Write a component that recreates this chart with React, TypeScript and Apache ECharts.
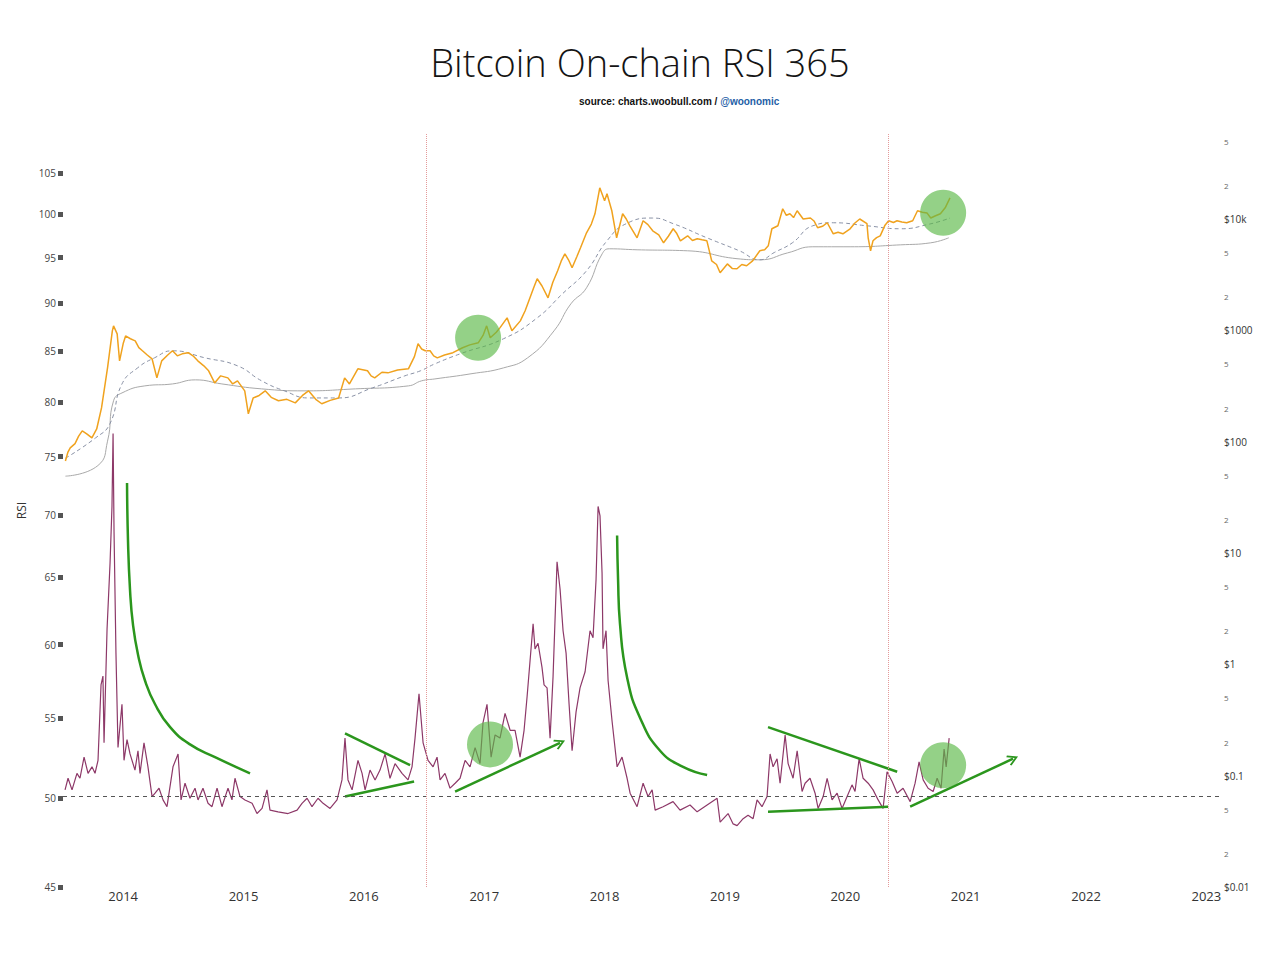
import { useEffect, useRef } from "react";
import * as echarts from "echarts";

// axis ticks
const yearTicks = [2014, 2015, 2016, 2017, 2018, 2019, 2020, 2021, 2022, 2023];
const rsiTicks = [45, 50, 55, 60, 65, 70, 75, 80, 85, 90, 95, 100, 105];
const priceDecades = [0.01, 0.1, 1, 10, 100, 1000, 10000];
const priceDecadeLabels = ["$0.01", "$0.1", "$1", "$10", "$100", "$1000", "$10k"];
const halvings = [2016.52, 2020.36];

// [decimal year, RSI]
const rsiPoints: [number, number][] = [
  [2013.517, 50.5], [2013.542, 51.2], [2013.575, 50.5], [2013.616, 51.5], [2013.641, 51.2],
  [2013.675, 52.5], [2013.708, 51.5], [2013.741, 51.9], [2013.766, 51.5], [2013.791, 52.3],
  [2013.816, 57.2], [2013.832, 57.8], [2013.841, 53.4], [2013.866, 61.1], [2013.891, 66.1],
  [2013.907, 70.7], [2013.916, 77.1], [2013.924, 68.6], [2013.94, 59.4], [2013.957, 53.1],
  [2013.99, 55.9], [2014.007, 52.3], [2014.032, 53.6], [2014.057, 52.7], [2014.098, 51.7],
  [2014.123, 52.9], [2014.14, 51.5], [2014.173, 53.4], [2014.206, 51.9], [2014.24, 50.1],
  [2014.265, 50.3], [2014.298, 50.6], [2014.331, 49.9], [2014.364, 49.5], [2014.414, 51.9],
  [2014.456, 52.7], [2014.481, 49.9], [2014.514, 50.9], [2014.555, 50.0], [2014.597, 50.6],
  [2014.622, 49.9], [2014.663, 50.6], [2014.705, 49.7], [2014.738, 49.5], [2014.78, 50.6],
  [2014.821, 49.5], [2014.871, 50.6], [2014.904, 49.9], [2014.929, 51.2], [2014.971, 50.1],
  [2015.012, 49.9], [2015.071, 49.7], [2015.112, 49.1], [2015.154, 49.4], [2015.195, 50.5],
  [2015.22, 49.3], [2015.287, 49.2], [2015.37, 49.1], [2015.445, 49.3], [2015.486, 49.7],
  [2015.528, 50.0], [2015.569, 49.5], [2015.619, 50.0], [2015.661, 49.7], [2015.719, 49.4],
  [2015.777, 49.9], [2015.818, 51.1], [2015.843, 53.7], [2015.868, 51.1], [2015.902, 50.5],
  [2015.951, 52.3], [2015.985, 51.5], [2016.01, 50.5], [2016.051, 51.7], [2016.093, 51.1],
  [2016.134, 51.7], [2016.176, 52.7], [2016.217, 51.2], [2016.259, 52.1], [2016.317, 51.5],
  [2016.367, 51.1], [2016.4, 51.9], [2016.425, 53.7], [2016.458, 56.6], [2016.492, 53.4],
  [2016.533, 52.3], [2016.575, 51.9], [2016.608, 52.5], [2016.633, 51.1], [2016.674, 51.5],
  [2016.716, 50.6], [2016.758, 50.9], [2016.799, 51.2], [2016.841, 52.3], [2016.882, 51.9],
  [2016.924, 53.1], [2016.965, 52.1], [2016.99, 54.7], [2017.023, 55.9], [2017.057, 52.5],
  [2017.09, 53.9], [2017.131, 53.7], [2017.173, 55.3], [2017.215, 54.2], [2017.256, 54.2],
  [2017.298, 52.5], [2017.331, 54.2], [2017.356, 56.4], [2017.381, 58.9], [2017.406, 61.5],
  [2017.422, 59.7], [2017.447, 60.1], [2017.48, 58.4], [2017.497, 57.2], [2017.522, 57.0],
  [2017.547, 53.7], [2017.572, 57.8], [2017.605, 66.2], [2017.63, 64.1], [2017.655, 61.0],
  [2017.68, 59.4], [2017.705, 55.9], [2017.73, 52.9], [2017.763, 55.4], [2017.796, 57.0],
  [2017.838, 58.1], [2017.879, 61.0], [2017.904, 60.5], [2017.929, 64.8], [2017.946, 70.7],
  [2017.962, 69.9], [2017.979, 65.3], [2017.987, 59.7], [2018.012, 61.0], [2018.029, 57.5],
  [2018.062, 54.8], [2018.104, 51.9], [2018.145, 52.5], [2018.187, 51.2], [2018.212, 50.3],
  [2018.27, 49.5], [2018.32, 50.9], [2018.361, 50.1], [2018.395, 50.5], [2018.42, 49.3],
  [2018.486, 49.5], [2018.569, 49.8], [2018.627, 49.3], [2018.71, 49.6], [2018.769, 49.2],
  [2018.852, 49.6], [2018.935, 50.0], [2018.96, 48.6], [2019.026, 49.1], [2019.068, 48.5],
  [2019.101, 48.4], [2019.151, 48.8], [2019.192, 49.0], [2019.234, 48.8], [2019.267, 49.9],
  [2019.308, 49.5], [2019.35, 50.1], [2019.375, 52.7], [2019.4, 51.9], [2019.433, 52.4],
  [2019.458, 50.9], [2019.5, 53.9], [2019.525, 52.1], [2019.566, 51.2], [2019.6, 52.9],
  [2019.641, 50.4], [2019.666, 50.9], [2019.707, 51.2], [2019.749, 50.3], [2019.774, 49.4],
  [2019.816, 50.1], [2019.849, 51.2], [2019.89, 49.9], [2019.932, 50.3], [2019.973, 49.4],
  [2020.015, 50.1], [2020.056, 50.8], [2020.081, 50.4], [2020.115, 52.4], [2020.148, 51.2],
  [2020.19, 50.9], [2020.231, 50.5], [2020.273, 49.9], [2020.314, 49.4], [2020.347, 51.6],
  [2020.389, 51.0], [2020.431, 50.3], [2020.48, 50.6], [2020.539, 49.8], [2020.58, 50.9],
  [2020.613, 52.2], [2020.647, 51.1], [2020.688, 50.6], [2020.73, 50.4], [2020.763, 51.2],
  [2020.796, 50.6], [2020.821, 53.0], [2020.838, 51.9], [2020.863, 53.7],
];

// [decimal year, USD]
const pricePoints: [number, number][] = [
  [2013.52, 67], [2013.54, 80], [2013.56, 88], [2013.6, 96], [2013.63, 112], [2013.66, 125],
  [2013.7, 117], [2013.74, 108], [2013.78, 130], [2013.82, 201], [2013.87, 460],
  [2013.91, 990], [2013.92, 1097], [2013.95, 930], [2013.97, 532], [2014.0, 760],
  [2014.02, 890], [2014.06, 840], [2014.1, 805], [2014.13, 700], [2014.16, 655],
  [2014.2, 600], [2014.24, 555], [2014.28, 374], [2014.32, 532], [2014.37, 600],
  [2014.41, 655], [2014.45, 590], [2014.49, 615], [2014.54, 630], [2014.58, 590],
  [2014.62, 532], [2014.67, 480], [2014.71, 433], [2014.76, 337], [2014.81, 390],
  [2014.87, 374], [2014.91, 330], [2014.95, 352], [2015.01, 286], [2015.04, 178],
  [2015.08, 247], [2015.13, 260], [2015.18, 286], [2015.23, 250], [2015.29, 233],
  [2015.36, 240], [2015.43, 223], [2015.49, 260], [2015.54, 286], [2015.6, 240],
  [2015.65, 219], [2015.72, 235], [2015.79, 247], [2015.84, 374], [2015.88, 330],
  [2015.95, 451], [2016.03, 433], [2016.06, 390], [2016.09, 374], [2016.15, 420],
  [2016.2, 415], [2016.28, 440], [2016.37, 451], [2016.42, 580], [2016.45, 757],
  [2016.48, 680], [2016.51, 655], [2016.55, 655], [2016.58, 590], [2016.61, 566],
  [2016.67, 600], [2016.74, 630], [2016.82, 697], [2016.88, 740], [2016.95, 772],
  [2016.99, 900], [2017.02, 1097], [2017.05, 857], [2017.1, 960], [2017.13, 1052],
  [2017.19, 1294], [2017.23, 990], [2017.3, 1216], [2017.34, 1500], [2017.38, 1960],
  [2017.41, 2400], [2017.44, 2904], [2017.48, 2500], [2017.53, 1960], [2017.57, 2700],
  [2017.61, 3428], [2017.64, 4200], [2017.67, 4868], [2017.7, 4300], [2017.73, 3648],
  [2017.77, 4600], [2017.8, 5510], [2017.85, 7516], [2017.89, 9000], [2017.92, 11140],
  [2017.96, 19060], [2018.0, 14590], [2018.02, 16840], [2018.06, 11860], [2018.1, 6780],
  [2018.15, 11140], [2018.18, 10000], [2018.21, 8690], [2018.27, 6780], [2018.32, 9640],
  [2018.36, 8900], [2018.4, 7840], [2018.45, 7200], [2018.49, 6110], [2018.53, 7000],
  [2018.57, 8170], [2018.6, 7400], [2018.63, 6370], [2018.69, 7060], [2018.73, 6400],
  [2018.77, 6640], [2018.81, 6500], [2018.85, 6370], [2018.89, 4210], [2018.93, 3900],
  [2018.96, 3290], [2019.02, 3950], [2019.06, 3600], [2019.1, 3570], [2019.14, 3900],
  [2019.18, 3800], [2019.23, 4210], [2019.29, 5180], [2019.33, 5300], [2019.36, 5740],
  [2019.39, 8170], [2019.44, 8690], [2019.48, 12360], [2019.51, 10800], [2019.54, 11140],
  [2019.57, 10300], [2019.6, 11860], [2019.65, 10000], [2019.71, 10200], [2019.74, 9600],
  [2019.77, 8340], [2019.81, 8600], [2019.85, 9250], [2019.9, 7360], [2019.94, 7600],
  [2019.98, 7360], [2020.04, 8170], [2020.08, 9200], [2020.12, 10000], [2020.18, 9080],
  [2020.19, 6780], [2020.21, 5180], [2020.23, 6370], [2020.26, 6800], [2020.29, 7060],
  [2020.33, 8800], [2020.36, 9640], [2020.4, 9300], [2020.43, 9640], [2020.47, 9400],
  [2020.51, 9250], [2020.56, 9640], [2020.6, 11860], [2020.64, 11500], [2020.68, 11300],
  [2020.71, 10200], [2020.75, 10700], [2020.79, 11140], [2020.83, 12600], [2020.87, 15500],
];

const priceMaDashed: [number, number][] = [
  [2013.52, 71], [2013.77, 108], [2013.89, 145], [2013.99, 330], [2014.12, 460],
  [2014.26, 566], [2014.41, 655], [2014.68, 566], [2014.95, 480], [2015.15, 352],
  [2015.34, 286], [2015.54, 247], [2015.79, 247], [2016.07, 304], [2016.34, 390],
  [2016.47, 433], [2016.59, 500], [2016.8, 615], [2017.16, 840], [2017.44, 1294],
  [2017.65, 2130], [2017.85, 3428], [2018.02, 6370], [2018.18, 9080], [2018.4, 10200],
  [2018.57, 9080], [2018.85, 6780], [2019.12, 5180], [2019.29, 4300], [2019.41, 5000],
  [2019.56, 6110], [2019.73, 8690], [2019.9, 9250], [2020.18, 8690], [2020.46, 8170],
  [2020.7, 9000], [2020.87, 10200],
];

const priceMaSolid: [number, number][] = [
  [2013.52, 49], [2013.79, 61], [2013.87, 101], [2013.92, 233], [2013.99, 274],
  [2014.18, 317], [2014.41, 330], [2014.6, 359], [2014.82, 330], [2015.15, 298],
  [2015.51, 286], [2015.93, 298], [2016.37, 317], [2016.48, 352], [2016.59, 366],
  [2016.89, 407], [2017.16, 460], [2017.36, 566], [2017.58, 990], [2017.72, 1730],
  [2017.85, 2410], [2017.98, 4868], [2018.04, 5400], [2018.27, 5290], [2018.69, 5180],
  [2019.1, 4400], [2019.29, 4300], [2019.52, 4960], [2019.73, 5630], [2020.04, 5630],
  [2020.46, 5860], [2020.71, 6110], [2020.86, 6780],
];

// hand-drawn annotations, in RSI units
const decay2014: [number, number][] = [
  [2014.032, 72.7], [2014.04, 67.9], [2014.057, 64.0], [2014.082, 61.4], [2014.123, 59.3],
  [2014.181, 57.5], [2014.265, 55.9], [2014.39, 54.4], [2014.555, 53.3], [2014.763, 52.5],
  [2015.054, 51.5],
];
const decay2018: [number, number][] = [
  [2018.104, 68.3], [2018.112, 64.8], [2018.128, 61.5], [2018.187, 57.7], [2018.295, 55.0],
  [2018.461, 52.9], [2018.652, 51.9], [2018.852, 51.4],
];
const wedge2016Top: [number, number][] = [[2015.843, 54.0], [2016.384, 52.0]];
const wedge2016Bottom: [number, number][] = [[2015.843, 50.1], [2016.417, 51.0]];
const wedge2019Top: [number, number][] = [[2019.358, 54.4], [2020.431, 51.6]];
const wedge2019Bottom: [number, number][] = [[2019.358, 49.2], [2020.356, 49.5]];
const arrow2017: [number, number][] = [[2016.758, 50.4], [2017.63, 53.4]];
const arrow2020: [number, number][] = [[2020.539, 49.5], [2021.394, 52.4]];
const rsiCircles: [number, number][] = [[2017.048, 53.3], [2020.813, 52.0]];
const priceCircles: [number, number][] = [[2016.949, 857], [2020.813, 11380]];

const GREEN = "#2b961d";
const CIRCLE = "rgba(92,184,72,0.82)";
const CHEVRON = "path://M0,12 L12,0 L24,12 L21,13.5 L12,4.5 L3,13.5 Z";

const lg = (pts: [number, number][]) => pts.map(([t, v]) => [t, Math.log10(v)]);

const priceTickValues: number[] = [];
const priceTickLabels: string[] = [];
priceDecades.forEach((d, i) => {
  priceTickValues.push(Math.log10(d), Math.log10(d * 2), Math.log10(d * 5));
  priceTickLabels.push("{m|" + priceDecadeLabels[i] + "}", "{s|2}", "{s|5}");
});

function greenLine(data: [number, number][], smooth = false) {
  return {
    type: "line",
    data: lg(data),
    yAxisIndex: 0,
    symbol: "none",
    smooth,
    silent: true,
    z: 4,
    lineStyle: { color: GREEN, width: 2.5 },
  };
}

export default function App() {
  const chartRef = useRef<HTMLDivElement>(null);

  useEffect(() => {
    if (!chartRef.current) return;
    const chart = echarts.init(chartRef.current, undefined, { renderer: "svg" });

    const option = {
      animation: false,
      textStyle: { fontFamily: "Open Sans" },
      title: [
        {
          text: "Bitcoin On-chain RSI 365",
          left: "center",
          top: 38,
          textStyle: { fontSize: 38, fontWeight: 300, color: "#141414", fontFamily: "Open Sans" },
        },
        {
          text: "{a|source: charts.woobull.com / }{b|@woonomic}",
          left: 574,
          top: 91,
          textStyle: {
            rich: {
              a: { fontSize: 10, fontWeight: "bold", color: "#111", fontFamily: "Liberation Sans" },
              b: { fontSize: 10, fontWeight: "bold", color: "#1d5ea6", fontFamily: "Liberation Sans" },
            },
          },
        },
      ],
      grid: { left: 63, right: 58, top: 134, bottom: 69, outerBoundsMode: "none" },
      xAxis: {
        type: "value",
        min: 2013.5,
        max: 2023.13,
        axisLine: { show: false },
        axisTick: { show: false },
        splitLine: { show: false },
        axisLabel: {
          customValues: yearTicks,
          formatter: (v: number) => String(Math.round(v)),
          fontSize: 13,
          color: "#333",
          margin: 2,
        },
      },
      yAxis: [
        {
          type: "value",
          min: Math.log10(45),
          max: Math.log10(110),
          name: "RSI",
          nameLocation: "middle",
          nameRotate: 90,
          nameGap: 33,
          nameTextStyle: { fontSize: 12, color: "#333" },
          axisLine: { show: false },
          splitLine: { show: false },
          axisTick: {
            show: true,
            customValues: rsiTicks.map(Math.log10),
            length: 5,
            lineStyle: { width: 5, color: "#555" },
          },
          axisLabel: {
            customValues: rsiTicks.map(Math.log10),
            formatter: (v: number) => String(Math.round(Math.pow(10, v))),
            fontSize: 10,
            color: "#444",
            margin: 7,
          },
        },
        {
          type: "value",
          position: "right",
          min: -2,
          max: Math.log10(58000),
          axisLine: { show: false },
          axisTick: { show: false },
          splitLine: { show: false },
          axisLabel: {
            customValues: priceTickValues,
            margin: 2,
            formatter: (v: number) => {
              const i = priceTickValues.findIndex((p) => Math.abs(p - v) < 1e-6);
              return i >= 0 ? priceTickLabels[i] : "";
            },
            rich: {
              m: { fontSize: 10, color: "#333" },
              s: { fontSize: 8, color: "#666" },
            },
          },
        },
      ],
      series: [
        {
          type: "line",
          name: "200 week",
          data: lg(priceMaSolid),
          yAxisIndex: 1,
          symbol: "none",
          smooth: true,
          lineStyle: { color: "#a9a9a9", width: 1 },
        },
        {
          type: "line",
          name: "1 year",
          data: lg(priceMaDashed),
          yAxisIndex: 1,
          symbol: "none",
          smooth: true,
          lineStyle: { color: "#8a92a6", width: 1, type: [4, 3] },
        },
        {
          type: "line",
          name: "Price",
          data: lg(pricePoints),
          yAxisIndex: 1,
          symbol: "none",
          lineStyle: { color: "#f0a21e", width: 1.5 },
        },
        {
          type: "line",
          name: "RSI",
          data: lg(rsiPoints),
          yAxisIndex: 0,
          symbol: "none",
          lineStyle: { color: "#8d3868", width: 1.2 },
          markLine: {
            silent: true,
            symbol: ["none", "none"],
            label: { show: false },
            data: [
              {
                yAxis: Math.log10(50),
                lineStyle: { color: "#555", type: [4, 4], width: 1 },
              },
              ...halvings.map((h) => ({
                xAxis: h,
                lineStyle: { color: "#e49a9a", type: "dotted", width: 1 },
              })),
            ],
          },
        },
        greenLine(decay2014, true),
        greenLine(decay2018, true),
        greenLine(wedge2016Top),
        greenLine(wedge2016Bottom),
        greenLine(wedge2019Top),
        greenLine(wedge2019Bottom),
        {
          type: "lines",
          coordinateSystem: "cartesian2d",
          xAxisIndex: 0,
          yAxisIndex: 0,
          silent: true,
          z: 4,
          symbol: ["none", CHEVRON],
          symbolSize: [16, 11],
          lineStyle: { color: GREEN, width: 2.5, opacity: 1 },
          data: [{ coords: lg(arrow2017) }, { coords: lg(arrow2020) }],
        },
        {
          type: "scatter",
          data: lg(rsiCircles),
          yAxisIndex: 0,
          symbolSize: 46,
          silent: true,
          z: 5,
          itemStyle: { color: CIRCLE },
        },
        {
          type: "scatter",
          data: lg(priceCircles),
          yAxisIndex: 1,
          symbolSize: 46,
          silent: true,
          z: 5,
          itemStyle: { color: CIRCLE },
        },
      ],
    };

    chart.setOption(option as any);

    return () => {
      chart.dispose();
    };
  }, []);

  return (
    <div
      ref={chartRef}
      style={{ position: "absolute", left: 0, top: 0, width: 1280, height: 956, background: "#fff" }}
    />
  );
}
